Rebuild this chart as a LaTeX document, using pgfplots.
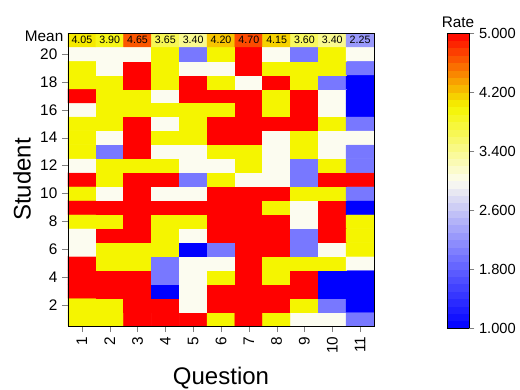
\documentclass[border=0pt]{standalone}
\usepackage{fontspec}
\setmainfont{Liberation Sans}
\usepackage{pgfplots}
\pgfplotsset{compat=1.18}
\pgfplotsset{/pgf/number format/assume math mode=true}
\begin{document}
\begin{tikzpicture}
\useasboundingbox (-51pt,-47.25pt) rectangle (339pt,244.5pt);
\begin{axis}[
  at={(0pt,0pt)}, anchor=south west,
  scale only axis, width=229.5pt, height=219.75pt,
  xmin=0.5, xmax=11.5, ymin=0.5, ymax=21.5,
  enlargelimits=false,
  xtick={1,...,11}, ytick={2,4,...,20},
  extra y ticks={21}, extra y tick labels={Mean},
  extra y tick style={major tick length=0pt, yticklabel style={yshift=3pt}},
  tick align=outside, tick pos=left,
  major tick length=4.5pt,
  tick label style={font=\fontsize{11.5}{13}\selectfont},
  xticklabel style={rotate=90, anchor=east},
  xlabel={Question}, ylabel={Student},
  label style={font=\fontsize{18}{20}\selectfont},
  xlabel style={at={(axis description cs:0.5,-0.178)}, anchor=center},
  ylabel style={at={(axis description cs:-0.150,0.5)}, anchor=center},
  colormap={rate}{rgb255=(0,0,255) rgb255=(120,120,255) rgb255=(252,252,240) rgb255=(245,245,0) rgb255=(255,0,0)},
  point meta min=1, point meta max=5,
  colorbar sampled,
  colorbar/width=16.5pt,
  colorbar style={
    at={(parent axis.north east)}, anchor=north west, xshift=46.2pt,
    scale only axis, width=16.5pt, height=221.25pt,
    ymin=1, ymax=5, ytick={1,1.8,2.6,3.4,4.2,5},
    yticklabel style={font=\fontsize{11}{13}\selectfont, /pgf/number format/.cd, fixed, fixed zerofill, precision=3},
    samples=41,
    ytick pos=right, tick align=outside, major tick length=4pt,
    title=Rate, title style={font=\fontsize{11.5}{13}\selectfont, at={(0.5,1)}, anchor=base, yshift=-2.25pt},
    axis line style={line width=0.5pt},
  },
  axis line style={line width=0.6pt},
  axis on top,
]
\addplot[matrix plot*, mesh/cols=11, point meta=explicit] table[meta=c] {
x y c
1 1 4
2 1 4
3 1 5
4 1 5
5 1 5
6 1 4
7 1 5
8 1 4
9 1 3
10 1 3
11 1 2
1 2 4
2 2 4
3 2 5
4 2 5
5 2 3
6 2 5
7 2 5
8 2 5
9 2 4
10 2 2
11 2 1
1 3 5
2 3 5
3 3 5
4 3 1
5 3 3
6 3 5
7 3 5
8 3 5
9 3 5
10 3 1
11 3 1
1 4 5
2 4 5
3 4 5
4 4 2
5 4 3
6 4 4
7 4 5
8 4 4
9 4 5
10 4 1
11 4 1
1 5 5
2 5 4
3 5 4
4 5 2
5 5 3
6 5 3
7 5 5
8 5 4
9 5 4
10 5 4
11 5 3
1 6 3
2 6 4
3 6 4
4 6 4
5 6 1
6 6 2
7 6 5
8 6 5
9 6 2
10 6 3
11 6 4
1 7 3
2 7 5
3 7 5
4 7 4
5 7 3
6 7 5
7 7 5
8 7 5
9 7 2
10 7 5
11 7 4
1 8 4
2 8 4
3 8 5
4 8 4
5 8 4
6 8 5
7 8 5
8 8 5
9 8 3
10 8 5
11 8 4
1 9 5
2 9 5
3 9 5
4 9 5
5 9 5
6 9 5
7 9 5
8 9 4
9 9 3
10 9 5
11 9 1
1 10 4
2 10 3
3 10 5
4 10 3
5 10 3
6 10 5
7 10 5
8 10 5
9 10 4
10 10 4
11 10 2
1 11 5
2 11 4
3 11 5
4 11 5
5 11 2
6 11 4
7 11 3
8 11 3
9 11 2
10 11 5
11 11 5
1 12 3
2 12 4
3 12 4
4 12 4
5 12 3
6 12 3
7 12 4
8 12 3
9 12 2
10 12 4
11 12 2
1 13 4
2 13 2
3 13 5
4 13 3
5 13 3
6 13 4
7 13 4
8 13 3
9 13 4
10 13 3
11 13 2
1 14 4
2 14 3
3 14 5
4 14 4
5 14 4
6 14 5
7 14 5
8 14 3
9 14 4
10 14 3
11 14 3
1 15 4
2 15 4
3 15 5
4 15 3
5 15 4
6 15 5
7 15 5
8 15 5
9 15 5
10 15 4
11 15 2
1 16 3
2 16 4
3 16 4
4 16 4
5 16 4
6 16 4
7 16 5
8 16 4
9 16 5
10 16 3
11 16 1
1 17 5
2 17 4
3 17 4
4 17 3
5 17 5
6 17 5
7 17 5
8 17 4
9 17 5
10 17 3
11 17 1
1 18 4
2 18 4
3 18 5
4 18 4
5 18 5
6 18 4
7 18 3
8 18 5
9 18 4
10 18 2
11 18 1
1 19 4
2 19 3
3 19 5
4 19 4
5 19 3
6 19 3
7 19 5
8 19 4
9 19 4
10 19 4
11 19 2
1 20 3
2 20 3
3 20 3
4 20 4
5 20 2
6 20 4
7 20 5
8 20 3
9 20 2
10 20 4
11 20 3
1 21 4.05
2 21 3.90
3 21 4.65
4 21 3.65
5 21 3.40
6 21 4.20
7 21 4.70
8 21 4.15
9 21 3.60
10 21 3.40
11 21 2.25
};
\addplot[draw=none, mark=none, nodes near coords, point meta=explicit symbolic,
  every node near coord/.append style={anchor=center, inner sep=0pt, text=black, font=\fontsize{8}{9}\selectfont}]
  coordinates {(1,21)[4.05] (2,21)[3.90] (3,21)[4.65] (4,21)[3.65] (5,21)[3.40] (6,21)[4.20] (7,21)[4.70] (8,21)[4.15] (9,21)[3.60] (10,21)[3.40] (11,21)[2.25]};
\end{axis}
\end{tikzpicture}
\end{document}
